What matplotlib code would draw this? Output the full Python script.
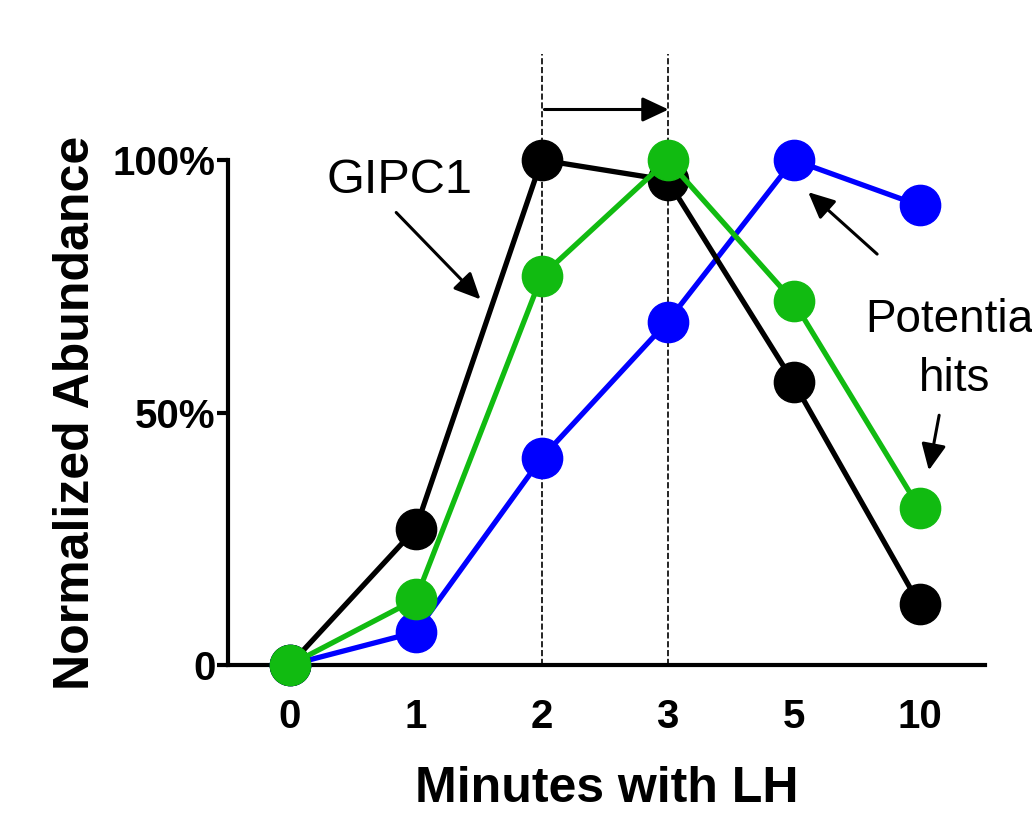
import matplotlib
matplotlib.use("Agg")
import matplotlib.pyplot as plt

plt.rcParams["font.family"] = "Liberation Sans"

categories = ["0", "1", "2", "3", "5", "10"]
black = [0, 27, 100, 96, 56, 12]
green = [0, 13, 77, 100, 72, 31]
blue = [0, 6.5, 41, 68, 100, 91]
ytick_vals = [0, 50, 100]
ytick_labels = ["0", "50%", "100%"]

fig = plt.figure(figsize=(10.32, 8.24), dpi=100)
ax = fig.add_axes([228/1032, 1-665/824, (985-228)/1032, 505/824])
x = list(range(len(categories)))
for ys, c in [(blue, "#0000ff"), (black, "black"), (green, "#11bb11")]:
    ax.plot(x, ys, color=c, lw=3.8, marker="o", ms=29, clip_on=False, zorder=3)

ax.set_xlim(-0.49, 5.52)
ax.set_ylim(0, 100)
ax.set_xticks(x)
ax.set_xticklabels(categories, fontsize=29, fontweight="bold")
ax.set_yticks(ytick_vals)
ax.set_yticklabels(ytick_labels, fontsize=29, fontweight="bold")
ax.tick_params(axis="x", length=0, pad=24)
ax.tick_params(axis="y", length=8, width=3, pad=1)
for s in ["top", "right"]:
    ax.spines[s].set_visible(False)
for s in ["left", "bottom"]:
    ax.spines[s].set_linewidth(3)
ax.set_xlabel("Minutes with LH", fontsize=36, fontweight="bold", labelpad=21)
ax.set_ylabel("Normalized Abundance", fontsize=36, fontweight="bold", labelpad=10)

ap = dict(arrowstyle="-|>,head_length=1.6,head_width=0.75", color="black", lw=2.2)
for xv in [2, 3]:
    ax.plot([xv, xv], [0, 121], color="black", lw=1.2, ls="--", clip_on=False, zorder=1)
ax.annotate("", xy=(3.03, 110), xytext=(2, 110), annotation_clip=False, arrowprops=ap)
ax.text(0.87, 96, "GIPC1", fontsize=35, ha="center", va="center")
ax.annotate("", xy=(1.53, 72), xytext=(0.83, 90), annotation_clip=False, arrowprops=ap)
ax.text(5.28, 62.5, "Potential\nhits", fontsize=33, ha="center", va="center", linespacing=1.45)
ax.annotate("", xy=(4.1, 94), xytext=(4.68, 81), annotation_clip=False, arrowprops=ap)
ax.annotate("", xy=(5.07, 38), xytext=(5.16, 50), annotation_clip=False, arrowprops=ap)

fig.savefig("out.png", dpi=100)
